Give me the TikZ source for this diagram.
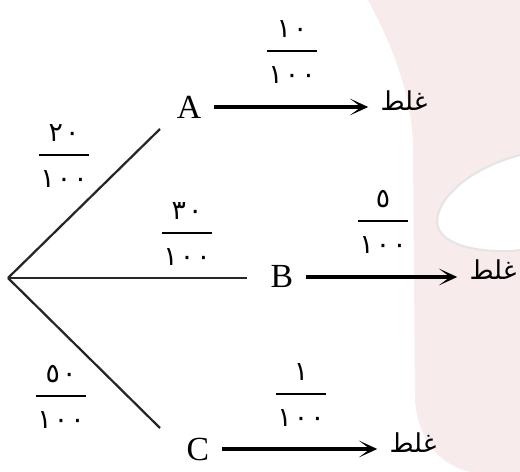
\documentclass[tikz,border=0pt]{standalone}
\usepackage{fontspec}
\usepackage{tikz}
\usetikzlibrary{arrows.meta}
\setmainfont{Liberation Serif}
\newfontfamily\arabicfont[Script=Arabic]{DejaVu Sans}
\TeXXeTstate=1
\definecolor{wmPink}{RGB}{248,235,235}
\newcommand\fracW{35pt}
\newcommand\dg{\kern0.08em}
\newcommand{\probFrac}[2]{%
  \(\displaystyle{\hbox to \fracW{\hss\arabicfont #1\vrule depth 5pt width 0pt\hss}
    \above 1.4pt
    \hbox to \fracW{\hss\arabicfont #2\vrule height 18pt width 0pt\hss}}\)%
}
\newcommand{\wrongWord}{\arabicfont\beginR غلط\endR}

\begin{document}
\begin{tikzpicture}[x=0.025cm, y=-0.025cm,
    letter/.style={font=\fontsize{24}{28}\selectfont, inner ysep=0pt, inner xsep=3.2mm},
    wrong/.style={font=\fontsize{18.5}{22}\selectfont, inner ysep=0pt, inner xsep=3mm},
    prob/.style={font=\fontsize{19}{22}\selectfont, inner sep=0pt},
    branch/.style={line width=1.6pt, black!85},
    result/.style={line width=2.8pt, -{Stealth[length=4.6mm, width=4.2mm, inset=2.8mm]}}]
    \useasboundingbox (0,0) rectangle (520,472);

    % faint background
    \fill[wmPink] (368,0) .. controls (395,50) and (413,100) .. (413,150) -- (415,400)
        .. controls (418,440) and (440,465) .. (470,472) -- (520,472) -- (520,0) -- cycle;
    \fill[white] (520,155) .. controls (470,168) and (437,198) .. (437,222)
        .. controls (438,248) and (490,254) .. (520,250) -- cycle;
    \draw[black!10, line width=1.5pt] (520,155) .. controls (470,168) and (437,198) .. (437,222)
        .. controls (438,248) and (490,254) .. (520,250);

    % tree
    \coordinate (root) at (8,278);
    \coordinate (aEnd) at (160,129);
    \coordinate (bEnd) at (247,278);
    \coordinate (cEnd) at (160,428);
    \draw[branch] (root) -- (aEnd);
    \draw[branch] (root) -- (bEnd);
    \draw[branch] (root) -- (cEnd);

    \node[letter] (A) at (189,107) {A};
    \node[letter] (B) at (282,277) {B};
    \node[letter] (C) at (198,449) {C};

    \node[wrong] (wA) at (404,101) {\wrongWord};
    \node[wrong] (wB) at (493,270) {\wrongWord};
    \node[wrong] (wC) at (413,443) {\wrongWord};

    \draw[result] (A.east) -- (A.east -| wA.west);
    \draw[result] (B.east) -- (B.east -| wB.west);
    \draw[result] (C.east) -- (C.east -| wC.west);

    % probabilities
    \node[prob] (pA) at (64,156) {\probFrac{٢\dg٠}{١\dg٠\dg٠}};
    \node[prob] (pB) at (187,234) {\probFrac{٣\dg٠}{١\dg٠\dg٠}};
    \node[prob] (pC) at (61,397) {\probFrac{٥\dg٠}{١\dg٠\dg٠}};
    \node[prob] (qA) at (292,52) {\probFrac{١\dg٠}{١\dg٠\dg٠}};
    \node[prob] (qB) at (383,222) {\probFrac{٥}{١\dg٠\dg٠}};
    \node[prob] (qC) at (301,395) {\probFrac{١}{١\dg٠\dg٠}};
\end{tikzpicture}
\end{document}
